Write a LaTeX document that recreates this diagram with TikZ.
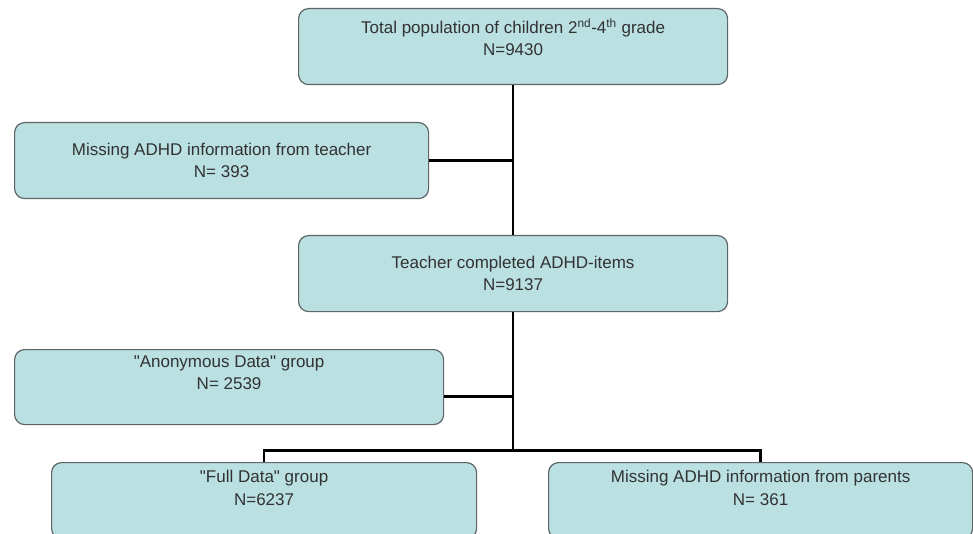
\documentclass[tikz,border=0pt]{standalone}
\usepackage{fontspec}
\setmainfont{Liberation Sans}
\definecolor{boxfill}{RGB}{186,224,226}
\definecolor{boxline}{RGB}{95,100,102}
\definecolor{txtcol}{RGB}{50,50,50}
\newcommand{\bxtext}[4]{\begin{minipage}[c][#1][#2]{#3}\centering\fontsize{17}{22.5}\selectfont #4\end{minipage}}
\tikzset{
  flowbox/.style={draw=boxline, line width=1.2pt, fill=boxfill, rounded corners=10pt,
    inner sep=0pt, anchor=north west, text=txtcol},
  conn/.style={draw=black, line width=2.6pt}
}
\begin{document}
\begin{tikzpicture}[x=1pt,y=-1pt]
\useasboundingbox (0,0) rectangle (973,534);
\clip (0,0) rectangle (973,534);
\fill[white] (0,0) rectangle (973,534);
% boxes
\node[flowbox] (top) at (298,8) {\bxtext{76pt}{t}{429pt}{\vspace*{10pt}Total population of children 2\textsuperscript{nd}-4\textsuperscript{th} grade\\N=9430}};
\node[flowbox] (teacher) at (14,122) {\bxtext{76pt}{c}{414pt}{Missing ADHD information from teacher\\N= 393}};
\node[flowbox] (mid) at (298,235) {\bxtext{76pt}{c}{429pt}{Teacher completed ADHD-items\\N=9137}};
\node[flowbox] (anon) at (14,349) {\bxtext{75pt}{t}{429pt}{\vspace*{6pt}\textquotedbl Anonymous Data\textquotedbl{} group\\N= 2539}};
\node[flowbox] (full) at (51,462) {\bxtext{76pt}{t}{425pt}{\vspace*{8pt}\textquotedbl Full Data\textquotedbl{} group\\N=6237}};
\node[flowbox] (parents) at (548,462) {\bxtext{76pt}{t}{424pt}{\vspace*{8pt}Missing ADHD information from parents\\N= 361}};
% connectors
\coordinate (bar) at ([yshift=-138pt]mid.south);
\draw[conn] (top.south) -- (mid.north);
\draw[conn] (teacher.east) -- (teacher.east -| mid.north);
\draw[conn] (mid.south) -- (bar);
\draw[conn] ([yshift=-9.5pt]anon.east) -- ([yshift=-9.5pt]anon.east -| mid.south);
\draw[conn] (full.north) -- (full.north |- bar) -- (parents.north |- bar) -- (parents.north);
\end{tikzpicture}
\end{document}
